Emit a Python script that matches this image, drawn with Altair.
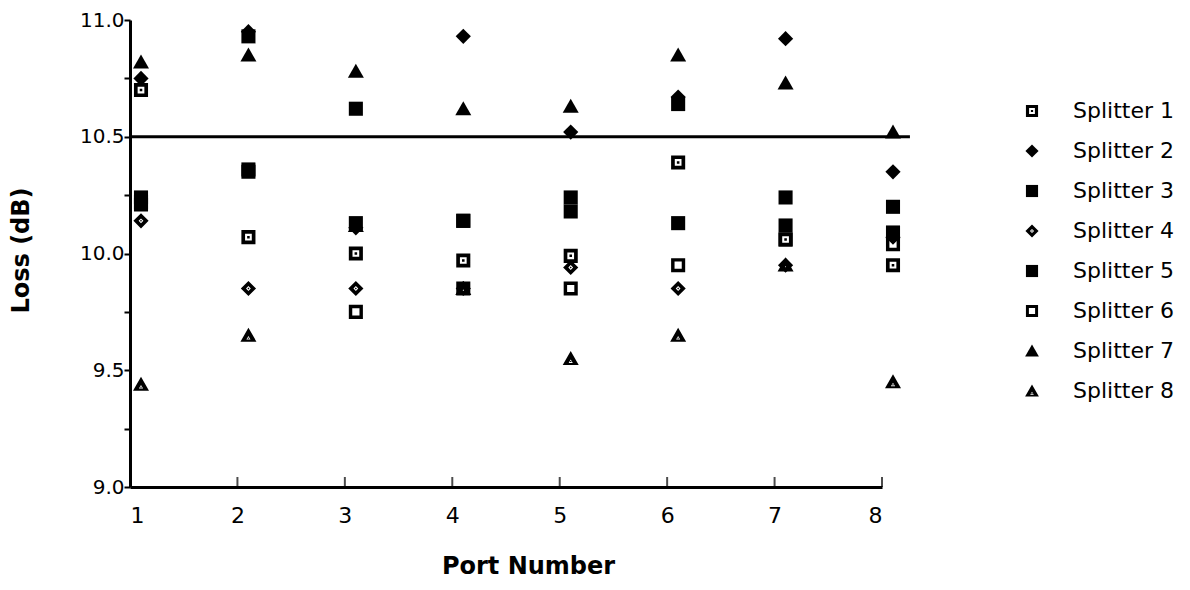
import altair as alt
import pandas as pd

ports = [1, 2, 3, 4, 5, 6, 7, 8]
names = ["Splitter 1", "Splitter 2", "Splitter 3", "Splitter 4",
         "Splitter 5", "Splitter 6", "Splitter 7", "Splitter 8"]

s1 = [10.70, 10.07, 10.00, 9.97, 9.99, 10.39, 10.06, 9.95]
s2 = [10.75, 10.95, 10.11, 10.93, 10.52, 10.67, 10.92, 10.35]
s3 = [10.24, 10.93, 10.62, 10.14, 10.24, 10.64, 10.24, 10.20]
s4 = [10.14, 9.85, 9.85, 9.85, 9.94, 9.85, 9.95, 10.07]
s5 = [10.21, 10.36, 10.13, 10.14, 10.18, 10.13, 10.12, 10.09]
s6 = [10.22, 10.35, 9.75, 9.85, 9.85, 9.95, 10.06, 10.04]
s7 = [10.82, 10.85, 10.78, 10.62, 10.63, 10.85, 10.73, 10.52]
s8 = [9.44, 9.65, 10.12, 9.85, 9.55, 9.65, 9.95, 9.45]

series = {"Splitter 1": s1, "Splitter 2": s2, "Splitter 3": s3, "Splitter 4": s4,
          "Splitter 5": s5, "Splitter 6": s6, "Splitter 7": s7, "Splitter 8": s8}

# hollow-ish markers drawn first, solid ones on top
draw_order = ["Splitter 6", "Splitter 1", "Splitter 4", "Splitter 8",
              "Splitter 2", "Splitter 3", "Splitter 5", "Splitter 7"]

rows = []
for nm in draw_order:
    for p, v in zip(ports, series[nm]):
        rows.append({"port": p, "loss": v, "splitter": nm})
df = pd.DataFrame(rows)

sq = "M-0.88,-0.88L0.88,-0.88L0.88,0.88L-0.88,0.88Z"
sq_dot = sq + "M-0.42,-0.42L-0.42,0.42L0.42,0.42L0.42,-0.42Z" + "M-0.16,-0.16L0.16,-0.16L0.16,0.16L-0.16,0.16Z"
sq_open = sq + "M-0.45,-0.45L-0.45,0.45L0.45,0.45L0.45,-0.45Z"
dia = "M0,-0.95L0.95,0L0,0.95L-0.95,0Z"
dia_dot = dia + "M0,-0.3L-0.3,0L0,0.3L0.3,0Z" + "M0,-0.12L0.12,0L0,0.12L-0.12,0Z"
tri = "M0,-0.95L1,0.8L-1,0.8Z"
tri_dot = tri + "M0,0.1L-0.26,0.54L0.26,0.54Z" + "M-0.08,0.3L0.08,0.3L0.08,0.44L-0.08,0.44Z"

shape_range = [sq_dot, dia, sq, dia_dot, sq, sq_open, tri, tri_dot]

y_vals = [9.0, 9.25, 9.5, 9.75, 10.0, 10.25, 10.5, 10.75, 11.0]

FONT = "DejaVu Sans"

points = alt.Chart(df).mark_point(
    filled=True, opacity=1, size=256, strokeWidth=0, xOffset=11, color="black"
).encode(
    x=alt.X("port:Q",
            scale=alt.Scale(domain=[1, 8], nice=False, zero=False),
            axis=alt.Axis(values=ports, format="d", title="Port Number", ticks=False, tickSize=0,
                          labelPadding=35, labelBaseline="alphabetic",
                          labelFontSize=22, titleFontSize=24, titleFontWeight="bold",
                          titleX=398, titleY=86, titleBaseline="alphabetic",
                          domainWidth=3)),
    y=alt.Y("loss:Q",
            scale=alt.Scale(domain=[9, 11], nice=False, zero=False),
            axis=alt.Axis(values=y_vals,
                          labelExpr="datum.value % 0.5 == 0 ? format(datum.value, '.1f') : ''",
                          title="Loss (dB)", tickSize=6, tickWidth=2, labelPadding=0,
                          labelFontSize=20, titleFontSize=24, titleFontWeight="bold",
                          titleX=-109, titleY=230, titleBaseline="middle",
                          domainWidth=3)),
    shape=alt.Shape("splitter:N",
                    scale=alt.Scale(domain=names, range=shape_range),
                    legend=alt.Legend(title=None, orient="none", legendX=891, legendY=80,
                                      labelFontSize=22, labelFont=FONT, labelColor="black",
                                      symbolSize=190, symbolFillColor="black",
                                      symbolStrokeWidth=0, symbolOpacity=1,
                                      rowPadding=18, labelOffset=30)),
)

xticks = alt.Chart(pd.DataFrame({"port": ports})).mark_tick(
    orient="vertical", size=10, thickness=2, color="black", yOffset=-5
).encode(x="port:Q", y=alt.datum(9.0))

rule = alt.Chart(pd.DataFrame({"v": [10.5]})).mark_rule(
    strokeWidth=3, color="black"
).encode(y="v:Q", x=alt.datum(1), x2=alt.datum(8.26))

chart = alt.layer(rule, xticks, points).properties(
    width=752, height=467,
    autosize=alt.AutoSizeParams(type="none"),
    padding={"left": 122, "top": 12, "right": 296, "bottom": 95},
).configure_view(strokeWidth=0).configure_axis(
    grid=False, domainColor="black", tickColor="black", labelColor="black",
    titleColor="black", labelFont=FONT, titleFont=FONT
)

chart.save("out.html", embed_options={"renderer": "svg", "actions": False})
